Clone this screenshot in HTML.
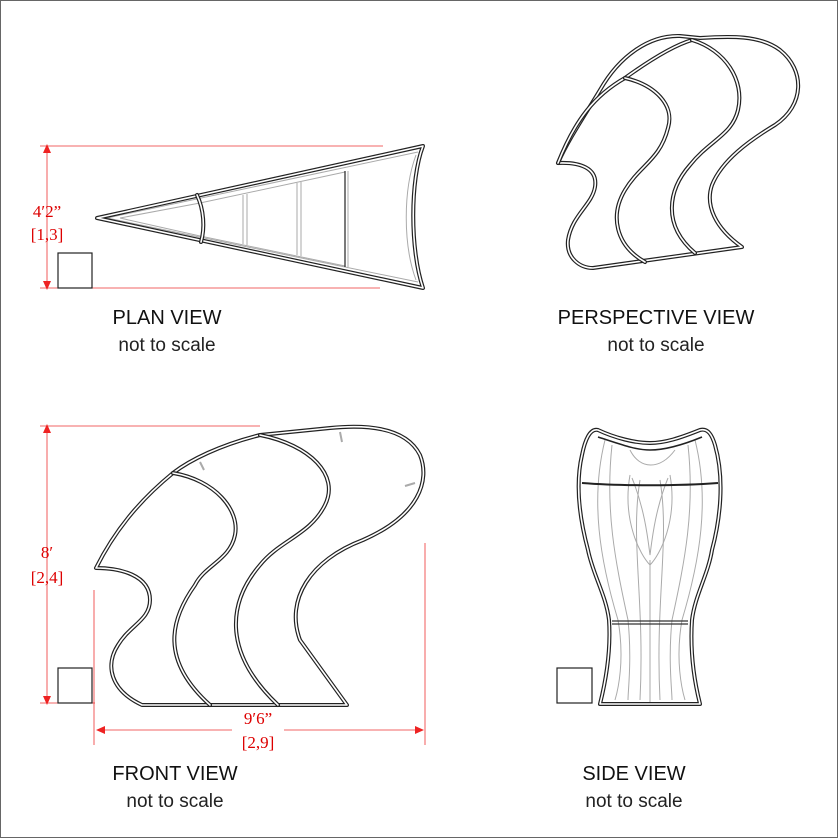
<!DOCTYPE html>
<html><head><style>
html,body{margin:0;padding:0;background:#fff}
svg{display:block}
.o{fill:none;stroke:#222;stroke-width:4;stroke-linejoin:round;stroke-linecap:round}
.i{fill:none;stroke:#fff;stroke-width:1.6;stroke-linejoin:round;stroke-linecap:round}
.g{fill:none;stroke:#aaa;stroke-width:1}
.r{stroke:#e33;stroke-width:0.8;fill:none}
.rt{fill:#d00;font-family:"Liberation Serif",serif;font-size:17px;text-anchor:middle}
.lb{font-family:"Liberation Sans",sans-serif;font-size:20px;fill:#111;text-anchor:middle}
.lb2{font-family:"Liberation Sans",sans-serif;font-size:19px;fill:#222;text-anchor:middle}
</style></head><body>
<svg width="838" height="838" viewBox="0 0 838 838" xmlns="http://www.w3.org/2000/svg">
<rect x="0.5" y="0.5" width="837" height="837" fill="#fff" stroke="#666"/>
<defs>
<path id="f1" d="M142,705 L347,705 L300,640 C285,600 310,560 363,540 C420,515 430,480 420,455 C405,425 360,425 330,428 L260,435 C220,445 190,460 173,473 C140,500 115,530 96,568 C120,568 150,575 150,600 C150,620 130,625 118,645 C105,665 110,690 142,705 Z"/>
<path id="f2" d="M173,473 C215,480 240,510 235,535 C230,560 205,565 195,585 C170,620 160,660 210,705"/>
<path id="f3" d="M260,435 C310,445 340,475 325,505 C310,535 280,540 260,565 C230,600 220,650 278,705"/>
<path id="p1" d="M593,268 L742,247 C715,228 705,205 712,185 C722,160 750,140 775,125 C805,105 805,70 780,50 C760,35 730,36 700,38 L680,36 C650,35 620,55 600,90 C585,115 568,140 558,163 C580,162 598,168 595,187 C592,205 572,215 568,240 C566,258 580,268 593,268 Z"/>
<path id="p2" d="M558,163 C575,120 595,95 625,78 C650,60 675,45 692,40"/>
<path id="p2b" d="M558,163 C572,128 588,100 605,85"/>
<path id="p3" d="M625,78 C655,85 675,105 668,128 C660,160 640,165 625,190 C610,215 615,245 645,262"/>
<path id="p4" d="M692,40 C725,50 745,80 738,110 C732,135 710,140 690,165 C668,190 662,225 695,253"/>
<path id="s1" d="M600,704 L700,704 C694,680 690,650 692,620 C695,595 708,575 712,550 C720,520 725,480 715,445 C712,435 708,428 700,430 C680,438 665,443 650,443 C635,443 615,438 598,430 C590,428 585,440 582,455 C575,485 580,520 588,550 C593,575 606,595 609,620 C611,650 606,680 600,704 Z"/>
<path id="a1" d="M97,218 L423,146 C410,180 410,250 423,288 Z"/>
<path id="a2" d="M197,195 C204,210 205,228 201,242"/>
</defs>

<g class="g">
<path d="M107,218 L418,152 M107,218 L418,282"/>
<path d="M120,218 L200,203 L345,172 M120,218 L200,236 L345,266"/>
<path d="M243,195 V244 M247,194 V245 M297,183 V255 M301,182 V256 M348,171 V267"/>
<path d="M416,155 C403,190 403,245 416,280"/>
</g>
<path d="M345,171 V267" stroke="#222" stroke-width="1.2"/>
<use href="#a1" class="o"/><use href="#a1" class="i"/>
<use href="#a2" class="o"/><use href="#a2" class="i"/>
<path class="r" d="M40,146 H383 M40,288 H380 M47,150 V284"/>
<path d="M47,144 l-4,9 h8z M47,290 l-4,-9 h8z" fill="#e22"/>
<text class="rt" x="47" y="217">4′2”</text>
<text class="rt" x="47" y="240">[1,3]</text>
<rect x="58" y="253" width="34" height="35" fill="none" stroke="#222" stroke-width="1.2"/>
<text class="lb" x="167" y="324">PLAN VIEW</text>
<text class="lb2" x="167" y="351">not to scale</text>

<use href="#p1" class="o"/><use href="#p1" class="i"/>
<use href="#p2" class="o"/><use href="#p2" class="i"/>
<use href="#p3" class="o"/><use href="#p3" class="i"/>
<use href="#p4" class="o"/><use href="#p4" class="i"/>
<text class="lb" x="656" y="324">PERSPECTIVE VIEW</text>
<text class="lb2" x="656" y="351">not to scale</text>

<g stroke="#aaa" stroke-width="2" fill="none">
<path d="M200,462 l4,8 M340,432 l2,10 M405,486 l10,-3"/>
</g>
<use href="#f1" class="o"/><use href="#f1" class="i"/>
<use href="#f2" class="o"/><use href="#f2" class="i"/>
<use href="#f3" class="o"/><use href="#f3" class="i"/>
<path class="r" d="M40,426 H260 M40,703 H95 M47,430 V699 M94,590 V745 M425,543 V745 M98,730 H420"/>
<path d="M47,424 l-4,9 h8z M47,705 l-4,-9 h8z M96,730 l9,-4 v8z M424,730 l-9,-4 v8z" fill="#e22"/>
<rect x="232" y="710" width="52" height="42" fill="#fff"/>
<text class="rt" x="47" y="558">8′</text>
<text class="rt" x="47" y="583">[2,4]</text>
<text class="rt" x="258" y="724">9′6”</text>
<text class="rt" x="258" y="748">[2,9]</text>
<rect x="58" y="668" width="34" height="35" fill="none" stroke="#222" stroke-width="1.2"/>
<text class="lb" x="175" y="780">FRONT VIEW</text>
<text class="lb2" x="175" y="807">not to scale</text>

<g class="g">
<path d="M605,440 C590,500 600,560 618,620 C625,660 618,690 615,700"/>
<path d="M695,440 C710,500 700,560 682,620 C675,660 682,690 685,700"/>
<path d="M612,445 C605,510 615,560 628,620 C632,660 628,690 628,700"/>
<path d="M688,445 C695,510 685,560 672,620 C668,660 672,690 672,700"/>
<path d="M630,450 C640,470 660,470 675,450"/>
<path d="M630,475 C622,520 640,555 650,565 C660,555 678,520 670,475"/>
<path d="M632,478 C645,510 648,540 650,555 C652,540 655,510 668,478"/>
<path d="M640,480 C630,540 645,600 640,700 M660,480 C670,540 655,600 660,700"/>
<path d="M650,560 V702"/>
</g>
<use href="#s1" class="o"/><use href="#s1" class="i"/>
<path d="M598,437 C620,444 635,450 650,450 C665,450 685,444 702,437" stroke="#222" stroke-width="1.5" fill="none"/>
<path d="M582,483 C620,486 680,486 718,483" stroke="#222" stroke-width="2" fill="none"/>
<path d="M612,621 H688 M612,624 H688" stroke="#333" stroke-width="1.3" fill="none"/>
<rect x="557" y="668" width="35" height="35" fill="none" stroke="#222" stroke-width="1.2"/>
<text class="lb" x="634" y="780">SIDE VIEW</text>
<text class="lb2" x="634" y="807">not to scale</text>
</svg>
</body></html>
